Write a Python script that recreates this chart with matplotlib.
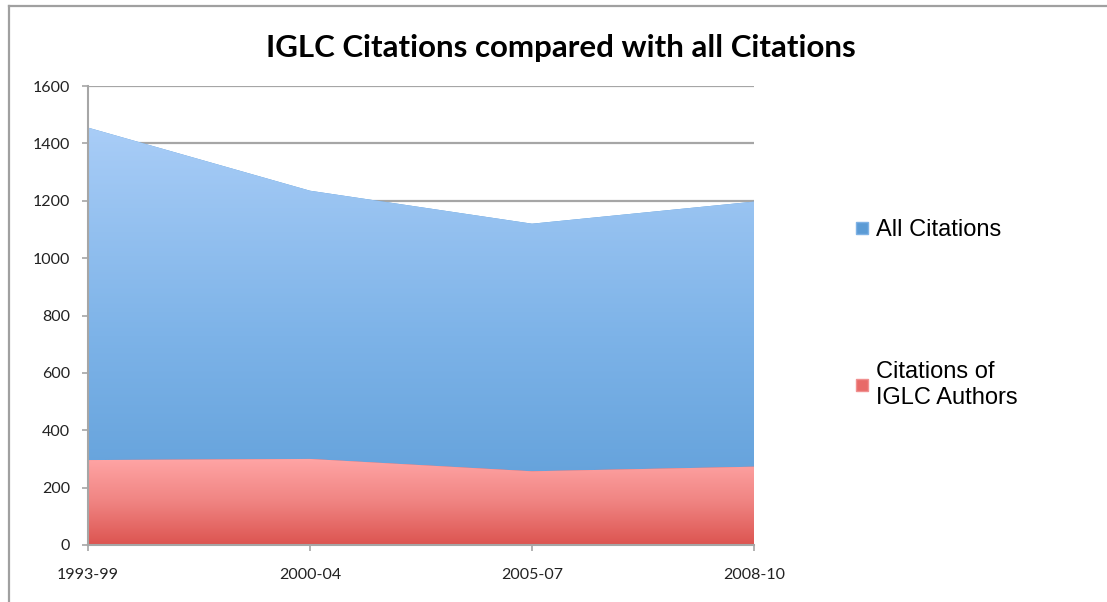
import matplotlib
matplotlib.use("Agg")
import matplotlib.pyplot as plt
import numpy as np
from matplotlib.lines import Line2D
from matplotlib.colors import LinearSegmentedColormap

periods = ["1993-99", "2000-04", "2005-07", "2008-10"]
all_citations = [1455, 1235, 1120, 1197]
iglc_citations = [296, 300, 257, 273]
series_labels = ["All Citations", "Citations of\nIGLC Authors"]
title = "IGLC Citations compared with all Citations"

W, H = 1107, 602
fig = plt.figure(figsize=(W / 100, H / 100), dpi=100)
ax = fig.add_axes([88 / W, 1 - 545 / H, (754 - 88) / W, (545 - 86) / H])

x = np.arange(len(periods))

blue_cmap = LinearSegmentedColormap.from_list("b", ["#5a9bd6", "#7db3e8", "#a9cdf7"])
red_cmap = LinearSegmentedColormap.from_list("r", ["#dc5450", "#f08482", "#ffa5a5"])

def gradient_fill(vals, cmap, mid, z):
    poly = ax.fill_between(x, 0, vals, facecolor=mid, edgecolor="none", zorder=z)
    grad = np.linspace(0, 1, 256).reshape(-1, 1)
    im = ax.imshow(grad, cmap=cmap, origin="lower", aspect="auto",
                   extent=[x[0], x[-1], 0, max(vals)], zorder=z + 0.1,
                   interpolation="bilinear")
    path = poly.get_paths()[0]
    im.set_clip_path(path, ax.transData)
    return poly

gradient_fill(all_citations, blue_cmap, "#5b9bd5", 2)
gradient_fill(iglc_citations, red_cmap, "#e86a68", 3)

ax.set_xlim(x[0], x[-1])
ax.set_ylim(0, 1600)
ax.set_yticks(np.arange(0, 1601, 200))
ax.set_xticks(x)
ax.set_xticklabels(periods)
ax.yaxis.grid(True, color="#a6a6a6", linewidth=1.6, zorder=0)
ax.set_axisbelow(True)
for s in ["top", "right"]:
    ax.spines[s].set_visible(False)
for s in ["left", "bottom"]:
    ax.spines[s].set_color("#a6a6a6")
    ax.spines[s].set_linewidth(1.5)
    ax.spines[s].set_zorder(5)
ax.tick_params(axis="y", direction="out", length=4.5, width=1.2, color="#a6a6a6",
               pad=8.5, labelsize=11.5, labelcolor="#222222")
ax.tick_params(axis="x", direction="out", length=4.5, width=1.2, color="#a6a6a6",
               pad=12, labelsize=11.5, labelcolor="#222222")
for lab in ax.get_xticklabels() + ax.get_yticklabels():
    lab.set_fontfamily("Lato")

fig.text(561 / W, 1 - 48 / H, title, ha="center", va="center",
         fontsize=22.5, fontweight="bold", family="Lato", color="black")

handles = [
    Line2D([], [], marker="s", linestyle="none", markersize=8,
           markerfacecolor="#5b9bd5", markeredgecolor="#7fb2e5"),
    Line2D([], [], marker="s", linestyle="none", markersize=8,
           markerfacecolor="#e86a68", markeredgecolor="#f09090"),
]
leg = fig.legend(handles, series_labels, loc="upper left",
                 bbox_to_anchor=(855 / W, 1 - 219 / H), frameon=False,
                 prop={"family": "Liberation Sans", "size": 17},
                 handlelength=0.6, handletextpad=0.3, labelspacing=5.1,
                 borderpad=0, borderaxespad=0)

# figure border (top and left)
fig.add_artist(Line2D([9 / W, 1], [1 - 6 / H, 1 - 6 / H], color="#a0a0a0",
                      linewidth=1.6, transform=fig.transFigure))
fig.add_artist(Line2D([9 / W, 9 / W], [0, 1 - 6 / H], color="#a0a0a0",
                      linewidth=1.6, transform=fig.transFigure))

fig.savefig("out.png", dpi=100)
